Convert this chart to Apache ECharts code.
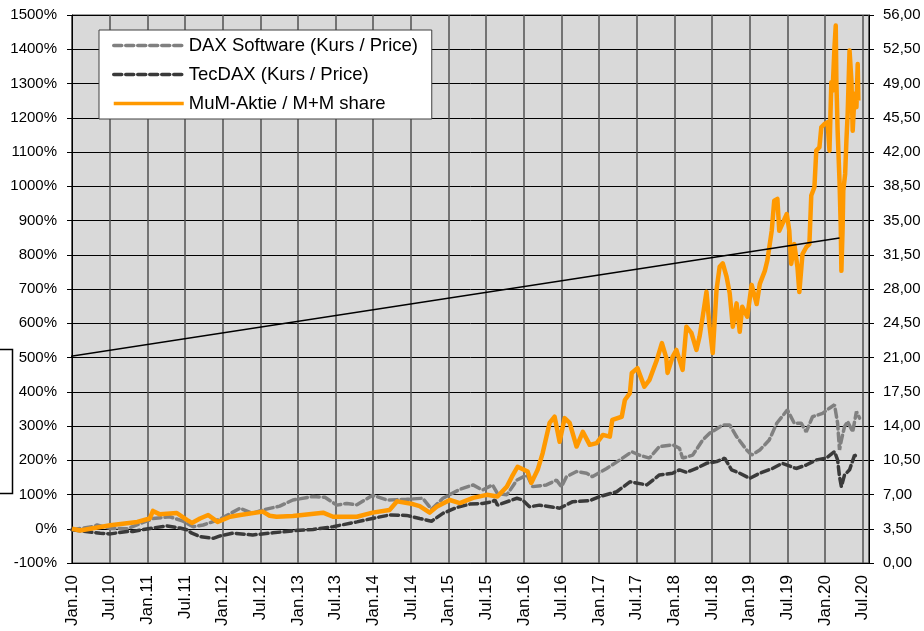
<!DOCTYPE html>
<html>
<head>
<meta charset="utf-8">
<script src="https://cdn.jsdelivr.net/npm/echarts@6/dist/echarts.min.js"></script>
<style>html,body{margin:0;padding:0;background:#fff}#c{width:924px;height:631px}</style>
</head>
<body>
<div id="c"></div>
<script>
// x values: months since Jan 2010; y values: % change
const seriesNames = ['DAX Software (Kurs / Price)', 'TecDAX (Kurs / Price)', 'MuM-Aktie / M+M share'];

const daxSoftware = [
[0,-3],[3.3,6],[4,11],[6.1,1],[8.8,0],[12.4,26],[12.9,30],[15.6,35],[17.7,22],[19.3,6],[20.9,11],[23.6,28],
[26.8,60],[28.7,45],[30.4,55],[33.1,66],[35.2,84],[38.4,94],[40.3,92],[42.2,69],[43.8,74],[45.4,70],[47.9,98],
[50.2,84],[53.3,86],[55.9,89],[57.3,57],[59.1,89],[61.8,115],[63.9,128],[65.4,113],[67,128],[67.8,103],[69.3,99],
[70.9,142],[72.5,157],[73.4,123],[75.6,128],[77.2,142],[78,123],[78.8,152],[80.4,167],[82,162],[82.9,152],
[85.2,176],[87.3,201],[89.2,225],[90.4,215],[92,206],[93.6,240],[95.7,245],[96.8,235],[97.3,206],[98.9,215],
[100.5,259],[101.6,279],[103.7,303],[104.8,303],[105.9,269],[107.5,230],[108.3,215],[109.6,230],[111.1,259],
[112.3,308],[114,347],[115.1,308],[116.2,308],[117,283],[118,327],[119.6,337],[120.7,352],[121.5,362],[122,308],
[122.3,230],[122.6,259],[123.1,298],[123.6,313],[124.4,283],[125,342],[125.5,323]
];

const tecDax = [
[0,-3],[4.5,-13],[6.1,-15],[8.8,-8],[9.7,-8],[12.4,1],[15.1,8],[17.2,2],[18.3,-3],[19.1,-13],[20.4,-23],[22.5,-28],
[23.6,-21],[25.6,-13],[28.8,-18],[32,-12],[35.2,-6],[38.4,-2],[41.6,6],[45.4,20],[48.6,33],[50.6,40],[53.3,39],
[55.4,30],[57.3,22],[59.1,45],[61.3,62],[63.4,72],[65.4,74],[67,79],[67.4,84],[67.8,69],[70.9,89],[71.8,84],
[72.9,64],[74.5,69],[77.7,60],[79.8,79],[82.5,82],[84.1,94],[86.8,108],[88.9,137],[91.6,128],[93.6,157],
[95.7,162],[96.8,172],[97.9,165],[99.5,176],[101.1,191],[102.7,196],[104,206],[105.1,172],[106.4,162],[108,147],
[109.6,162],[111.6,176],[113.2,191],[115.4,176],[117,186],[118.6,201],[120.2,206],[121.5,225],[122,201],
[122.3,152],[122.6,123],[123.1,157],[123.9,172],[124.7,215],[125.2,210]
];

const mumShare = [
[0,0],[1.3,-5],[6.1,10],[10.4,20],[12.4,30],[12.9,52],[14,42],[16.7,46],[18.3,26],[19.1,17],[20.4,30],[21.7,40],
[23.2,20],[25.2,35],[26.8,40],[30.4,50],[31.5,38],[32.6,35],[35.2,37],[40,47],[41.6,35],[45.4,35],[47.9,47],
[50.6,55],[51.8,80],[54.3,72],[55.4,66],[57,47],[58.1,64],[60.2,84],[61.8,75],[63.9,90],[66.1,99],[67.8,94],
[69.3,123],[70.1,152],[71,181],[72.6,167],[73.2,134],[74.2,172],[75,221],[76.1,309],[76.9,327],[77.7,254],
[78.5,323],[79.3,309],[80.4,240],[81.4,283],[82.5,245],[83.6,250],[84.6,274],[85.7,269],[86.1,318],[87.6,327],
[88.1,376],[88.9,396],[89.2,455],[90.1,469],[91.2,415],[92,434],[93.2,493],[94,542],[94.7,499],[94.9,455],
[95.7,502],[96.3,522],[97.3,464],[97.9,590],[98.7,572],[99.5,522],[100,561],[100.5,619],[101.1,692],[101.6,590],
[102.1,513],[102.7,697],[103.2,765],[103.7,775],[104.3,736],[104.8,688],[105.3,590],[105.9,658],[106.4,575],
[106.8,648],[107.6,619],[108.3,712],[109.1,656],[109.6,715],[110.4,753],[110.8,783],[111.5,870],[111.9,958],
[112.4,963],[112.7,870],[113.9,919],[114.3,870],[114.6,773],[115.1,831],[115.6,764],[115.9,691],[116.4,802],
[117,822],[117.5,831],[117.8,973],[118.3,997],[118.6,1104],[119.1,1114],[119.4,1172],[119.9,1182],[120.4,1187],
[120.7,1104],[121,1304],[121.2,1279],[121.5,1406],[121.7,1469],[121.8,1308],[122,1162],[122.3,1016],[122.5,880],
[122.6,753],[122.8,880],[122.9,987],[123.2,1036],[123.4,1133],[123.6,1211],[123.9,1396],[124.2,1308],[124.4,1162],
[124.7,1270],[125,1231],[125.2,1357],[125.3,1250]
];

const trendLine = [[-9.2,478],[122.3,849]];

const monthNames = ['Jan.', 'Jul.'];
const leftTicks = {min: -100, max: 1500, step: 100};
const rightTicks = {min: 0, max: 56, step: 3.5};
const xRange = {min: 0, max: 127, step: 6};

const chart = echarts.init(document.getElementById('c'), null, {renderer: 'canvas'});
const FONT = 'Liberation Sans, Arial, sans-serif';
const dash = {type: [8, 4], cap: 'round'};

chart.setOption({
  animation: false,
  backgroundColor: '#ffffff',
  grid: {left: 72, right: 55, top: 15, bottom: 68, show: true, backgroundColor: '#d9d9d9',
         borderColor: '#404040', borderWidth: 1, outerBoundsMode: 'none'},
  legend: {
    left: 99, top: 30, orient: 'vertical',
    data: seriesNames,
    backgroundColor: '#ffffff', borderColor: '#404040', borderWidth: 1,
    padding: [6, 13, 6, 13], itemGap: 10, itemWidth: 70, itemHeight: 14,
    itemStyle: {opacity: 0},
    lineStyle: {width: 3.5},
    textStyle: {fontFamily: FONT, fontSize: 18.5, color: '#000', width: 230, lineHeight: 18},
    selectedMode: false
  },
  xAxis: {
    type: 'value', min: xRange.min, max: xRange.max, interval: xRange.step,
    axisLine: {show: true, onZero: false, lineStyle: {color: '#000', width: 1}},
    axisTick: {show: false},
    splitLine: {show: true, lineStyle: {color: '#505050', width: 1.5}},
    axisLabel: {
      rotate: 90, margin: 12, fontFamily: FONT, fontSize: 17, color: '#000',
      showMinLabel: true, showMaxLabel: true,
      formatter: function (v) {
        if (Math.abs(v - Math.round(v)) > 1e-6 || Math.round(v) % 6 !== 0) return '';
        const m = Math.round(v);
        const yr = 10 + Math.floor(m / 12);
        return monthNames[(m % 12) / 6] + yr;
      }
    }
  },
  yAxis: [
    {
      type: 'value', min: leftTicks.min, max: leftTicks.max, interval: leftTicks.step,
      axisLine: {show: true, onZero: false, lineStyle: {color: '#000', width: 1}},
      axisTick: {show: true, length: 5, lineStyle: {color: '#000'}},
      splitLine: {show: true, lineStyle: {color: '#000', width: 1}},
      axisLabel: {margin: 15, fontFamily: FONT, fontSize: 15, color: '#000',
                  formatter: v => v + '%'}
    },
    {
      type: 'value', position: 'right', min: rightTicks.min, max: rightTicks.max, interval: rightTicks.step,
      axisLine: {show: true, onZero: false, lineStyle: {color: '#000', width: 1}},
      axisTick: {show: true, length: 5, lineStyle: {color: '#000'}},
      splitLine: {show: false},
      axisLabel: {margin: 14, fontFamily: FONT, fontSize: 15, color: '#000',
                  formatter: v => v.toFixed(2).replace('.', ',')}
    }
  ],
  series: [
    {name: seriesNames[0], type: 'line', data: daxSoftware, symbol: 'none', showSymbol: false,
     lineStyle: Object.assign({color: '#808080', width: 3.5}, dash), itemStyle: {color: '#808080'}},
    {name: seriesNames[1], type: 'line', data: tecDax, symbol: 'none', showSymbol: false,
     lineStyle: Object.assign({color: '#3a3a3a', width: 3.5}, dash), itemStyle: {color: '#3a3a3a'}},
    {name: seriesNames[2], type: 'line', data: mumShare, symbol: 'none', showSymbol: false,
     lineStyle: {color: '#ff9900', width: 4.5, join: 'round'}, itemStyle: {color: '#ff9900'}},
    {name: 'trend', type: 'line', data: trendLine, symbol: 'none', showSymbol: false, clip: false,
     lineStyle: {color: '#000', width: 1.5}, z: 5, silent: true}
  ],
  graphic: [
    {type: 'rect', left: -5, top: 347, shape: {width: 15, height: 144},
     style: {fill: null, stroke: '#000', lineWidth: 1.5}, silent: true}
  ]
});
</script>
</body>
</html>
